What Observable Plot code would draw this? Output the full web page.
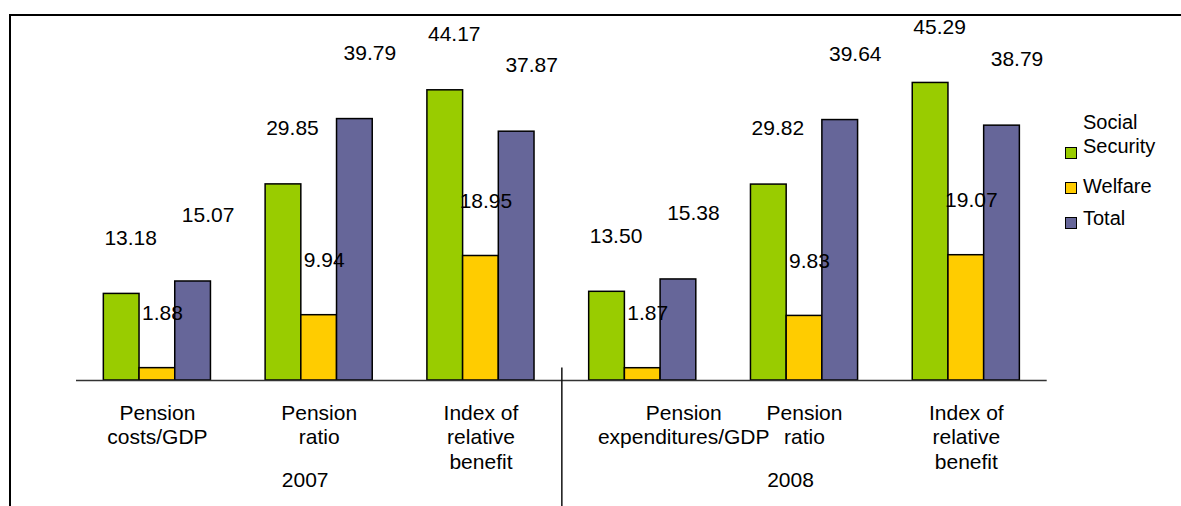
<!DOCTYPE html>
<html>
<head>
<meta charset="utf-8">
<script src="https://cdn.jsdelivr.net/npm/d3@7"></script>
<script src="https://cdn.jsdelivr.net/npm/@observablehq/plot@0.6"></script>
<style>
  html, body { margin: 0; padding: 0; background: #fff; overflow: hidden; }
  #wrap { position: relative; width: 1181px; height: 506px; overflow: hidden;
          font-family: "Liberation Sans", Arial, sans-serif; color: #000; }
  #wrap svg { position: absolute; left: 0; top: 0; }
  #border { position: absolute; left: 9px; top: 13.5px; width: 1400px; height: 700px;
            border-top: 2.5px solid #000; border-left: 2.5px solid #000; box-sizing: border-box; }
  .lg-sq { position: absolute; width: 12px; height: 12px; box-sizing: border-box; border: 1.5px solid #000; }
  .lg-tx { position: absolute; font-size: 20px; line-height: 24px; white-space: pre; }
</style>
</head>
<body>
<div id="wrap"><div id="border"></div></div>
<script>
// ---- data ----
const categories = ["Pension\ncosts/GDP", "Pension\nratio", "Index of\nrelative\nbenefit",
                    "Pension\nexpenditures/GDP", "Pension\nratio", "Index of\nrelative\nbenefit"];
const years = ["2007", "2007", "2007", "2008", "2008", "2008"];
const seriesNames = ["Social Security", "Welfare", "Total"];
const legendLabels = ["Social\nSecurity", "Welfare", "Total"];
const socialSecurity = [13.18, 29.85, 44.17, 13.50, 29.82, 45.29];
const welfare = [1.88, 9.94, 18.95, 1.87, 9.83, 19.07];
const total = [15.07, 39.79, 37.87, 15.38, 39.64, 38.79];
const colors = ["#99CC00", "#FFCC00", "#666699"];

// ---- build table ----
const seriesValues = [socialSecurity, welfare, total];
const rows = [];
seriesValues.forEach((vals, si) => vals.forEach((v, g) =>
  rows.push({group: g, si, series: seriesNames[si], value: v, label: v.toFixed(2)})));
const groupRows = categories.map((label, i) => ({i, label, year: years[i]}));
const yearRows = Array.from(d3.group(groupRows, d => d.year), ([year, gs]) =>
  ({year, mid: d3.mean(gs, d => d.i)}));
const yearBoundaries = [];
for (let i = 1; i < years.length; i++) if (years[i] !== years[i - 1]) yearBoundaries.push(i - 0.5);

// ---- layout / style ----
const barFrac = 0.2207;           // one bar as a share of a category slot
const labelOffsets = [{dx: 9, dy: -56}, {dx: 5, dy: -55}, {dx: 15, dy: -66}];
const font = '"Liberation Sans", Arial, sans-serif';

const chart = Plot.plot({
  width: 1181,
  height: 506,
  marginLeft: 76,
  marginRight: 134.3,
  marginTop: 51.5,
  marginBottom: 126,
  x: {domain: [-0.5, categories.length - 0.5], axis: null},
  y: {domain: [0, 50], axis: null},
  color: {domain: seriesNames, range: colors},
  style: {fontFamily: font, fontSize: "21px", background: "transparent", color: "#000", overflow: "visible"},
  marks: [
    Plot.rect(rows, {
      x1: d => d.group + (d.si - 1.5) * barFrac,
      x2: d => d.group + (d.si - 0.5) * barFrac,
      y1: 0, y2: "value",
      fill: "series", stroke: "#000", strokeWidth: 1.5
    }),
    Plot.ruleY([0], {stroke: "#333", strokeWidth: 1.5}),
    Plot.ruleX(yearBoundaries, {y1: 1.9, y2: -20, stroke: "#111", strokeWidth: 1.5}),
    ...labelOffsets.map((o, si) => Plot.text(rows.filter(d => d.si === si), {
      x: d => d.group + (d.si - 1) * barFrac,
      y: "value", text: "label",
      dx: o.dx, dy: o.dy, fontSize: 21, fill: "#000"
    })),
    Plot.text(groupRows.filter(d => d.i !== 3), {
      x: "i", text: "label", frameAnchor: "bottom", lineAnchor: "top",
      dy: 22, lineHeight: 1.16, fontSize: 21, fill: "#000"
    }),
    Plot.text(groupRows.filter(d => d.i === 3), {
      x: "i", text: "label", frameAnchor: "bottom", lineAnchor: "top",
      dy: 22, dx: 41, lineHeight: 1.16, fontSize: 21, fill: "#000"
    }),
    Plot.text(yearRows, {
      x: "mid", text: "year", frameAnchor: "bottom", lineAnchor: "top",
      dy: 92, dx: -14, fontSize: 21, fill: "#000"
    })
  ]
});

const wrap = document.getElementById("wrap");
wrap.insertBefore(chart, wrap.firstChild);

// ---- legend ----
const color = chart.scale("color");
const legendSquareTops = [147, 182, 217];
const legendTextTops = [110, 174, 206];
seriesNames.forEach((name, i) => {
  const sq = document.createElement("div");
  sq.className = "lg-sq";
  sq.style.left = "1065px";
  sq.style.top = legendSquareTops[i] + "px";
  sq.style.background = color.apply(name);
  wrap.appendChild(sq);
  const tx = document.createElement("div");
  tx.className = "lg-tx";
  tx.style.left = "1083px";
  tx.style.top = legendTextTops[i] + "px";
  tx.textContent = legendLabels[i];
  wrap.appendChild(tx);
});
</script>
</body>
</html>
